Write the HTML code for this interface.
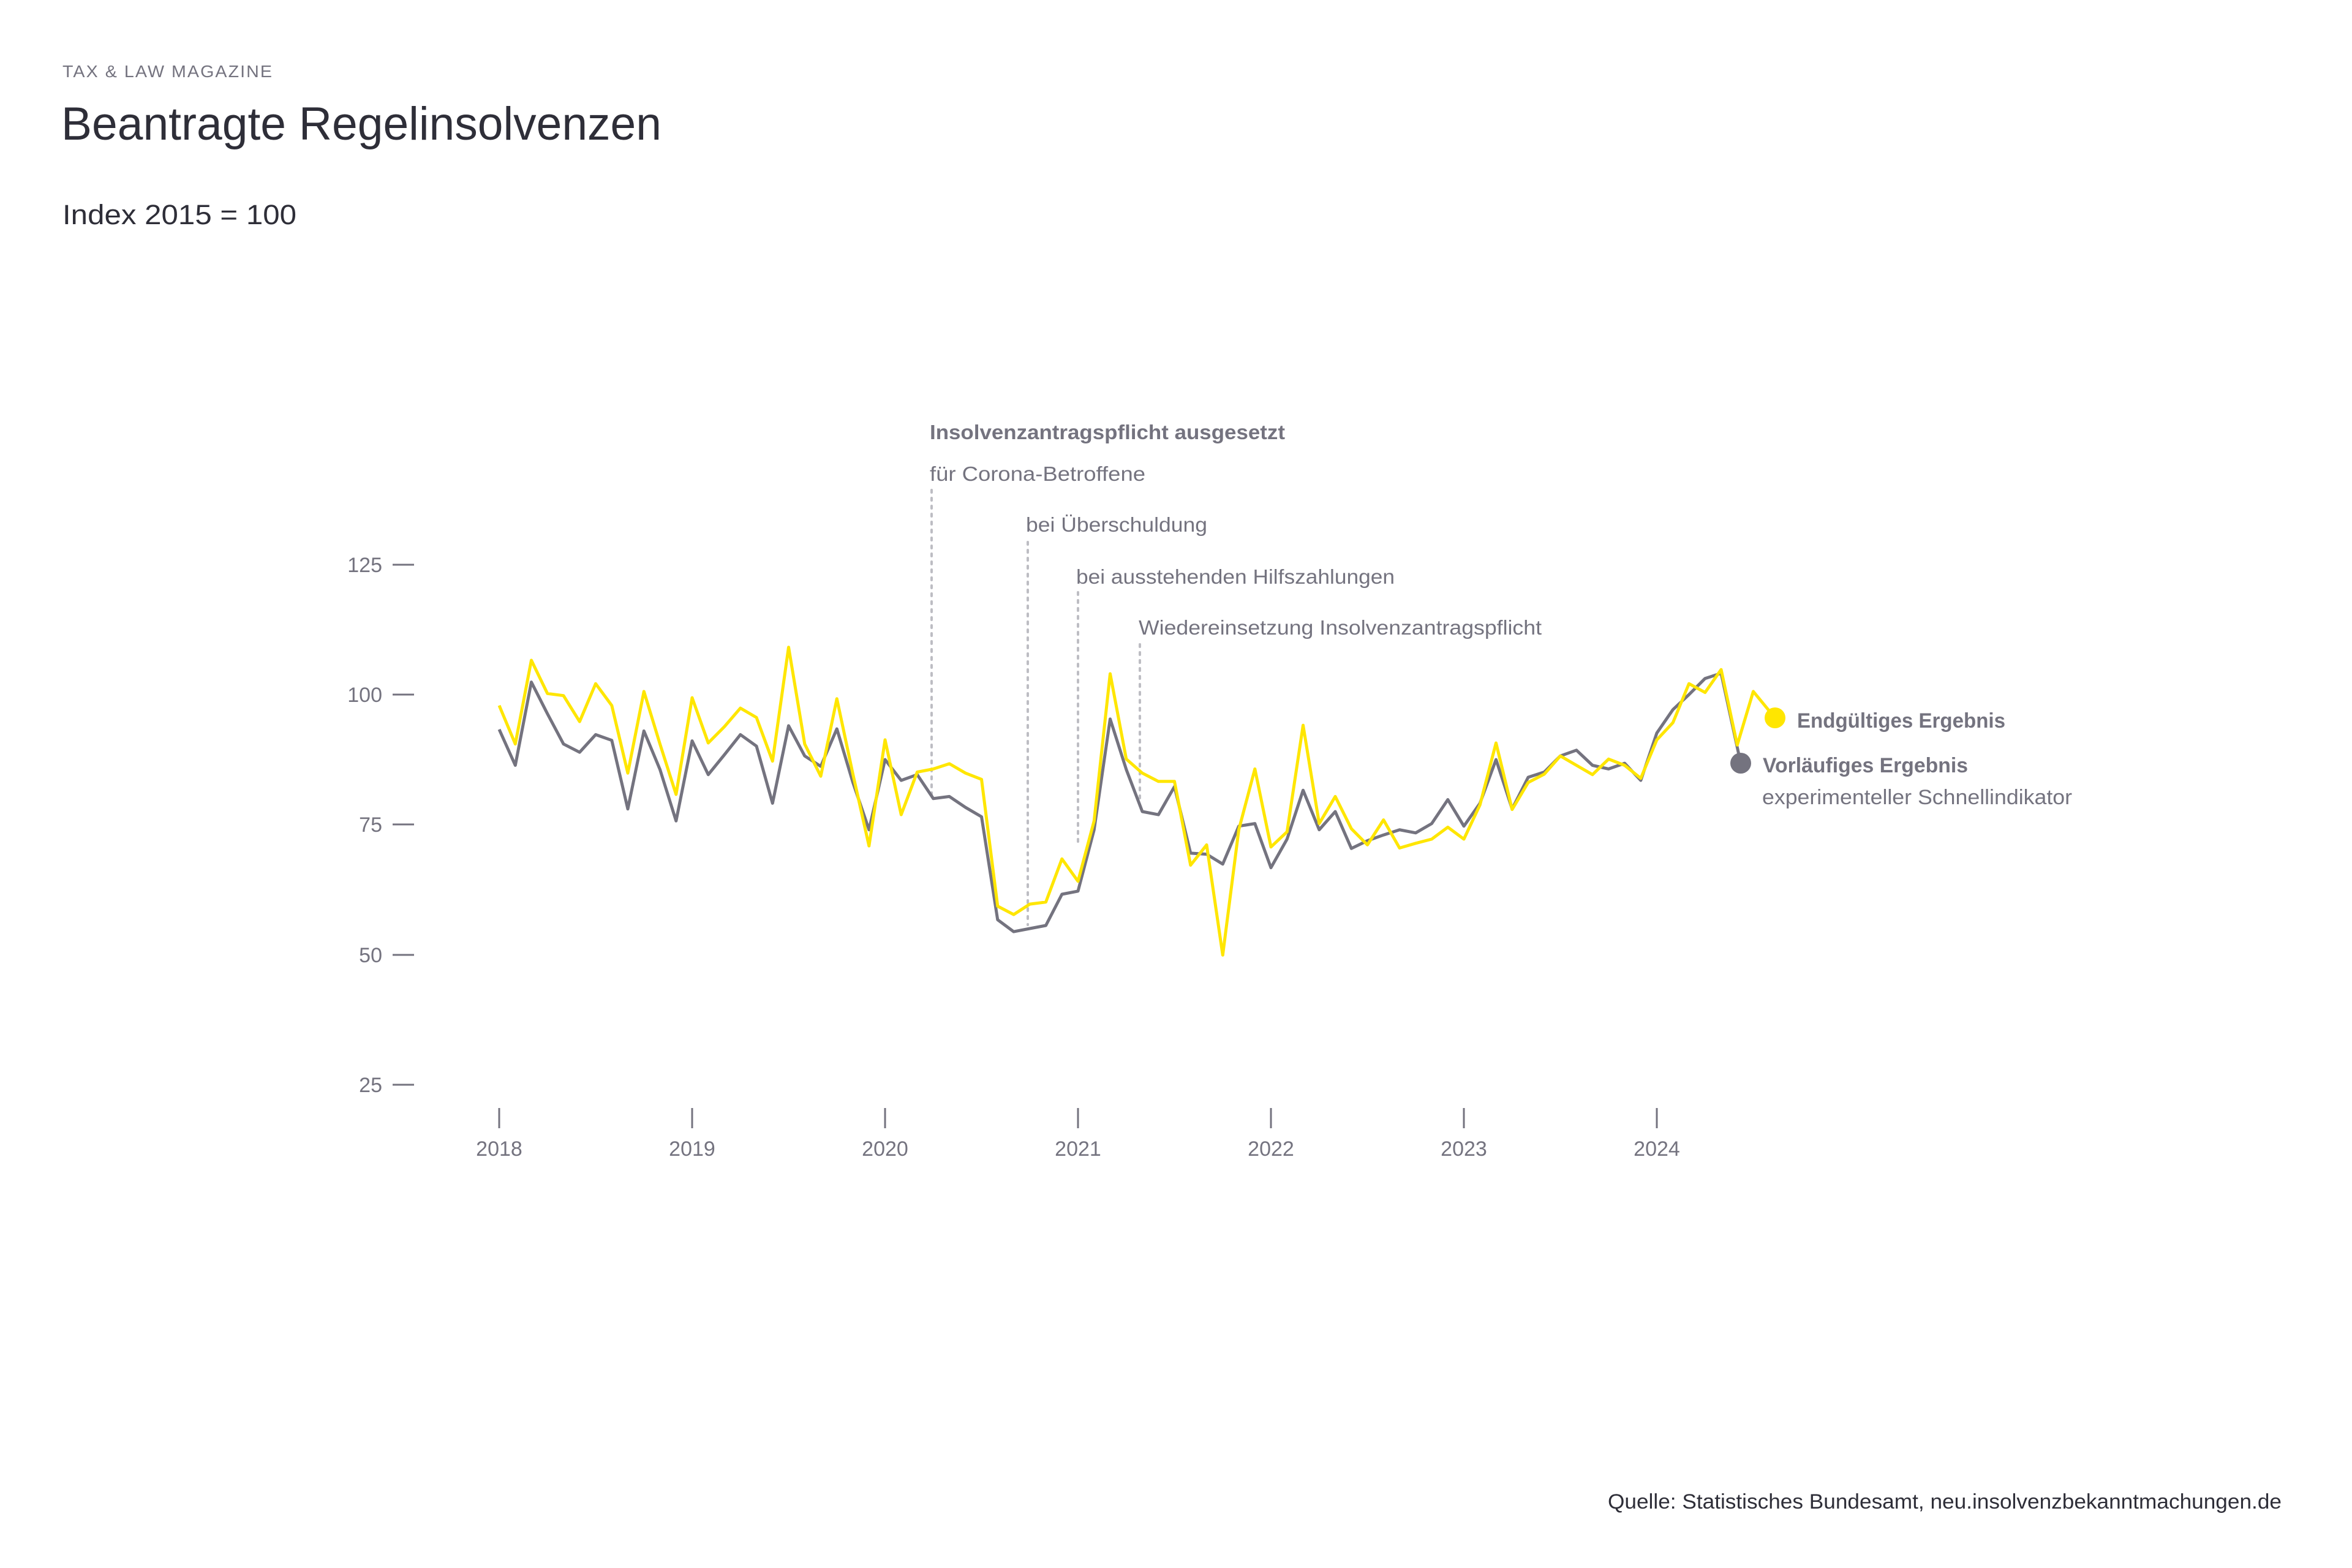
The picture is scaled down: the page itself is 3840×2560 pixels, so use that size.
<!DOCTYPE html>
<html><head><meta charset="utf-8"><style>
html,body{margin:0;padding:0;background:#fff}
svg{display:block}
text{font-family:"Liberation Sans",sans-serif}
</style></head><body>
<svg id="s" xmlns="http://www.w3.org/2000/svg" width="3840" height="2560" viewBox="0 0 3840 2560">
<rect width="3840" height="2560" fill="#fff"/>
<text x="102" y="126" font-size="28" fill="#74737f" letter-spacing="2" textLength="344" lengthAdjust="spacingAndGlyphs">TAX &amp; LAW MAGAZINE</text>
<text x="100" y="228" font-size="76" fill="#2e2e38" textLength="980" lengthAdjust="spacingAndGlyphs">Beantragte Regelinsolvenzen</text>
<text x="102" y="366" font-size="45" fill="#2e2e38" textLength="382" lengthAdjust="spacingAndGlyphs">Index 2015 = 100</text>
<g fill="#74737f" font-size="34" text-anchor="end">
<text x="624" y="934">125</text><text x="624" y="1146">100</text><text x="624" y="1358">75</text><text x="624" y="1571">50</text><text x="624" y="1783">25</text>
</g>
<g stroke="#74737f" stroke-width="3">
<line x1="641" x2="676" y1="922" y2="922"/><line x1="641" x2="676" y1="1134" y2="1134"/><line x1="641" x2="676" y1="1346" y2="1346"/><line x1="641" x2="676" y1="1559" y2="1559"/><line x1="641" x2="676" y1="1771" y2="1771"/>
<line x1="815" x2="815" y1="1809" y2="1842"/><line x1="1130" x2="1130" y1="1809" y2="1842"/><line x1="1445" x2="1445" y1="1809" y2="1842"/><line x1="1760" x2="1760" y1="1809" y2="1842"/><line x1="2075" x2="2075" y1="1809" y2="1842"/><line x1="2390" x2="2390" y1="1809" y2="1842"/><line x1="2705" x2="2705" y1="1809" y2="1842"/>
</g>
<g fill="#74737f" font-size="34" text-anchor="middle">
<text x="815" y="1887">2018</text><text x="1130" y="1887">2019</text><text x="1445" y="1887">2020</text><text x="1760" y="1887">2021</text><text x="2075" y="1887">2022</text><text x="2390" y="1887">2023</text><text x="2705" y="1887">2024</text>
</g>
<g stroke="#bdbdc3" stroke-width="4" stroke-dasharray="4 9" stroke-linecap="round">
<line x1="1521" x2="1521" y1="800" y2="1300"/>
<line x1="1678" x2="1678" y1="885" y2="1510"/>
<line x1="1760" x2="1760" y1="967" y2="1380"/>
<line x1="1861" x2="1861" y1="1052" y2="1305"/>
</g>
<g fill="#74737f" font-size="33">
<text x="1518" y="717" font-weight="bold" textLength="580" lengthAdjust="spacingAndGlyphs">Insolvenzantragspflicht ausgesetzt</text>
<text x="1518" y="785" textLength="352" lengthAdjust="spacingAndGlyphs">für Corona-Betroffene</text>
<text x="1675" y="868" textLength="296" lengthAdjust="spacingAndGlyphs">bei Überschuldung</text>
<text x="1757" y="953" textLength="520" lengthAdjust="spacingAndGlyphs">bei ausstehenden Hilfszahlungen</text>
<text x="1859" y="1036" textLength="658" lengthAdjust="spacingAndGlyphs">Wiedereinsetzung Insolvenzantragspflicht</text>
</g>
<polyline id="g" fill="none" stroke="#74737f" stroke-width="5" stroke-linejoin="round"/>
<polyline id="y" fill="none" stroke="#ffe600" stroke-width="5" stroke-linejoin="round"/>
<circle cx="2898" cy="1172" r="17" fill="#ffe600"/>
<circle cx="2842" cy="1246" r="17" fill="#74737f"/>
<g fill="#74737f" font-size="34">
<text x="2934" y="1188" font-weight="bold" textLength="340" lengthAdjust="spacingAndGlyphs">Endgültiges Ergebnis</text>
<text x="2878" y="1261" font-weight="bold" textLength="335" lengthAdjust="spacingAndGlyphs">Vorläufiges Ergebnis</text>
<text x="2877" y="1313" textLength="506" lengthAdjust="spacingAndGlyphs">experimenteller Schnellindikator</text>
</g>
<text x="2625" y="2463" font-size="34" fill="#2e2e38" textLength="1100" lengthAdjust="spacingAndGlyphs">Quelle: Statistisches Bundesamt, neu.insolvenzbekanntmachungen.de</text>
</svg>
<script>
var Y=[97.9,90.5,106.6,100.2,99.8,94.8,102.1,97.9,84.9,100.6,90.5,80.8,99.4,90.7,93.8,97.4,95.6,87.2,109.1,90.5,84.3,99.2,84.7,70.9,91.3,76.9,85.1,85.7,86.7,84.9,83.7,59.3,57.7,59.7,60.1,68.4,64.1,75.7,104.0,87.6,84.9,83.3,83.3,67.2,71.1,49.9,74.0,85.7,70.7,73.6,94.1,75.2,80.4,74.2,71.1,75.9,70.5,71.4,72.2,74.5,72.2,78.8,90.7,77.9,83.1,84.7,88.2,86.4,84.6,87.6,86.4,83.9,91.3,94.6,102.1,100.4,104.8,90.3,100.6,95.5];
var G=[93.3,86.4,102.4,96.3,90.5,88.9,92.3,91.2,78.0,93.0,85.6,75.7,91.1,84.6,88.4,92.3,90.1,79.1,94.0,88.2,86.2,93.4,83.1,74.0,87.5,83.5,84.6,80.0,80.4,78.3,76.5,56.7,54.4,55.0,55.6,61.6,62.2,74.0,95.3,85.6,77.5,76.9,82.3,69.5,69.3,67.4,74.7,75.2,66.7,72.2,81.6,74.0,77.5,70.4,71.9,73.0,74.0,73.4,75.2,79.8,74.7,79.1,87.5,78.0,84.1,85.1,88.2,89.3,86.4,85.7,86.8,83.5,92.6,97.1,100.0,103.1,104.1,86.8];
function pts(a){return a.map(function(v,i){var x=815+i*26.25;if(i==a.length-1&&a===Y)x=2898;if(i==a.length-1&&a===G)x=2842;return x.toFixed(1)+","+(1134-(v-100)*8.49).toFixed(1)}).join(" ")}
document.getElementById("y").setAttribute("points",pts(Y));
document.getElementById("g").setAttribute("points",pts(G));
</script>
</body></html>
